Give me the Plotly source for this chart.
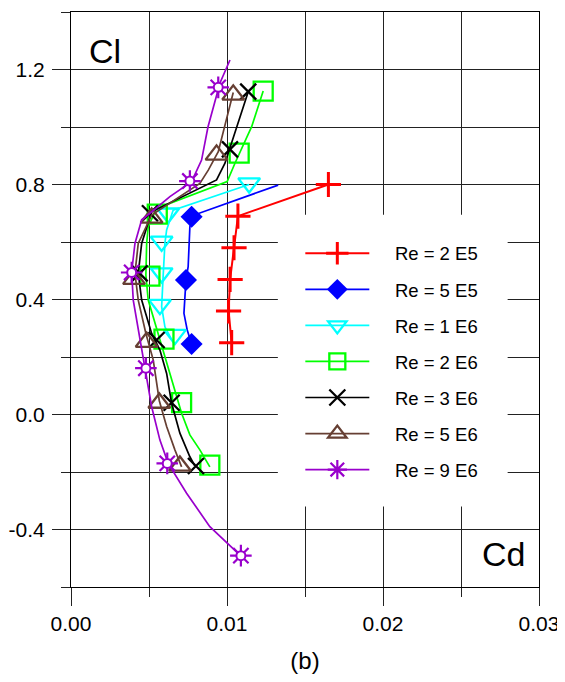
import plotly.graph_objects as go

# ---------------- data (Cd, Cl) ----------------
series_names = ["Re = 2 E5", "Re = 5 E5", "Re = 1 E6", "Re = 2 E6", "Re = 3 E6", "Re = 5 E6", "Re = 9 E6"]

# marker points
re2e5_cd = [0.0165, 0.0107, 0.01045, 0.0102, 0.0101, 0.0103]
re2e5_cl = [0.80, 0.69, 0.58, 0.47, 0.36, 0.25]
re5e5_cd = [0.00773, 0.00737, 0.00773]
re5e5_cl = [0.688, 0.468, 0.245]
re1e6_cd = [0.01142, 0.00623, 0.00581, 0.00581, 0.00570, 0.00666]
re1e6_cl = [0.805, 0.70, 0.602, 0.492, 0.382, 0.278]
re2e6_cd = [0.01232, 0.01078, 0.00553, 0.00506, 0.00596, 0.00709, 0.00890]
re2e6_cl = [1.125, 0.909, 0.697, 0.481, 0.262, 0.041, -0.176]
re3e6_cd = [0.01136, 0.01019, 0.00506, 0.00440, 0.00549, 0.00645, 0.00801]
re3e6_cl = [1.123, 0.922, 0.700, 0.491, 0.259, 0.041, -0.179]
re5e6_cd = [0.01040, 0.00933, 0.00517, 0.00404, 0.00485, 0.00566, 0.00698]
re5e6_cl = [1.112, 0.903, 0.684, 0.471, 0.252, 0.040, -0.179]
re9e6_cd = [0.00944, 0.00762, 0.00389, 0.00480, 0.00617, 0.01089]
re9e6_cl = [1.138, 0.812, 0.494, 0.161, -0.170, -0.491]

# curve points
re2e5_line_cd = re2e5_cd
re2e5_line_cl = re2e5_cl
re5e5_line_cd = [0.01328, 0.00780, 0.00762, 0.00758, 0.00751, 0.00737, 0.00730, 0.00724, 0.00745, 0.00773]
re5e5_line_cl = [0.798, 0.692, 0.653, 0.595, 0.514, 0.468, 0.398, 0.352, 0.294, 0.245]
re1e6_line_cd = [0.01142, 0.00655, 0.00613, 0.00602, 0.00591, 0.00581, 0.00602, 0.00647]
re1e6_line_cl = [0.800, 0.711, 0.642, 0.595, 0.485, 0.375, 0.305, 0.259]
re2e6_line_cd = [0.01232, 0.01158, 0.01051, 0.01001, 0.00549, 0.00495, 0.00485, 0.00480, 0.00495, 0.00559, 0.00655, 0.00709, 0.00762, 0.00826, 0.00890]
re2e6_line_cl = [1.125, 1.001, 0.874, 0.810, 0.717, 0.653, 0.595, 0.485, 0.398, 0.282, 0.109, 0.004, -0.071, -0.123, -0.182]
re3e6_line_cd = [0.01136, 0.01065, 0.01019, 0.00987, 0.00933, 0.00517, 0.00453, 0.00431, 0.00453, 0.00517, 0.00570, 0.00613, 0.00645, 0.00698, 0.00762, 0.00794]
re3e6_line_cl = [1.123, 1.001, 0.922, 0.874, 0.816, 0.705, 0.595, 0.491, 0.398, 0.282, 0.224, 0.143, 0.039, -0.065, -0.147, -0.179]
re5e6_line_cd = [0.01040, 0.00987, 0.00944, 0.00880, 0.00826, 0.00517, 0.00431, 0.00410, 0.00431, 0.00480, 0.00527, 0.00566, 0.00613, 0.00666, 0.00709]
re5e6_line_cl = [1.120, 1.001, 0.914, 0.850, 0.804, 0.694, 0.595, 0.491, 0.398, 0.282, 0.190, 0.048, -0.042, -0.123, -0.182]
re9e6_line_cd = [0.01019, 0.00955, 0.00878, 0.00837, 0.00773, 0.00634, 0.00506, 0.00453, 0.00410, 0.00389, 0.00399, 0.00431, 0.00463, 0.00517, 0.00570, 0.00623, 0.00741, 0.00890, 0.01083]
re9e6_line_cl = [1.233, 1.153, 1.000, 0.885, 0.810, 0.758, 0.700, 0.677, 0.595, 0.497, 0.398, 0.294, 0.190, 0.027, -0.089, -0.170, -0.274, -0.390, -0.489]

x_tick_vals = [0.0, 0.01, 0.02, 0.03]
x_tick_text = ["0.00", "0.01", "0.02", "0.03"]
y_tick_vals = [-0.4, 0.0, 0.4, 0.8, 1.2]
y_tick_text = ["-0.4", "0.0", "0.4", "0.8", "1.2"]

# ---------------- styles ----------------
FONT = "Liberation Sans, Arial, sans-serif"
colors = ["#ff0000", "#0000ff", "#00ffff", "#00ff00", "#000000", "#663f33", "#9900cc"]
symbols = ["cross-thin-open", "diamond", "triangle-down-open", "square-open", "x-thin-open", "triangle-up-open", "asterisk-open"]
msizes = [18, 17, 19, 19, 16, 19, 18]
mlw = [3, 0, 2.3, 2.3, 2.3, 2.3, 2.2]
lw = [2, 1.7, 1.7, 1.7, 1.7, 1.7, 1.7]
PAD = "\u00a0\u00a0\u00a0\u00a0"

marker_data = [(re2e5_cd, re2e5_cl), (re5e5_cd, re5e5_cl), (re1e6_cd, re1e6_cl), (re2e6_cd, re2e6_cl),
               (re3e6_cd, re3e6_cl), (re5e6_cd, re5e6_cl), (re9e6_cd, re9e6_cl)]
line_data = [(re2e5_line_cd, re2e5_line_cl), (re5e5_line_cd, re5e5_line_cl), (re1e6_line_cd, re1e6_line_cl),
             (re2e6_line_cd, re2e6_line_cl), (re3e6_line_cd, re3e6_line_cl), (re5e6_line_cd, re5e6_line_cl),
             (re9e6_line_cd, re9e6_line_cl)]

fig = go.Figure()

for i, name in enumerate(series_names):
    c = colors[i]
    lx, ly = line_data[i]
    mx, my = marker_data[i]
    fig.add_trace(go.Scatter(x=lx, y=ly, mode="lines", line=dict(color=c, width=lw[i]),
                             showlegend=False, hoverinfo="skip"))
    fig.add_trace(go.Scatter(x=mx, y=my, mode="markers", showlegend=False,
                             marker=dict(symbol=symbols[i], size=msizes[i], color=c,
                                         line=dict(color=c, width=mlw[i]))))
    if i == 6:
        fig.add_trace(go.Scatter(x=mx, y=my, mode="markers", showlegend=False,
                                 marker=dict(symbol="circle", size=9, color="white",
                                             line=dict(color=c, width=2))))

# legend-only traces
for i, name in enumerate(series_names):
    c = colors[i]
    fig.add_trace(go.Scatter(x=[None], y=[None], mode="lines+markers", name=PAD + name,
                             legendgroup=name,
                             line=dict(color=c, width=lw[i]),
                             marker=dict(symbol=symbols[i], size=msizes[i], color=c,
                                         line=dict(color=c, width=mlw[i]))))

grid_col = "#222222"
# the page body adds an 8px offset, so the figure is sized/margined to compensate
fig.update_layout(
    width=557, height=666,
    margin=dict(l=63, r=26, t=4, b=87),
    paper_bgcolor="white", plot_bgcolor="white",
    font=dict(family=FONT, color="black", size=21),
    xaxis=dict(range=[0, 0.03], tickvals=x_tick_vals, ticktext=x_tick_text,
               automargin=False,
               showgrid=True, gridcolor=grid_col, gridwidth=1,
               ticks="outside", ticklen=18, tickcolor=grid_col, tickwidth=1,
               minor=dict(dtick=0.005, tick0=0, showgrid=True, gridcolor=grid_col, gridwidth=1,
                          ticks="outside", ticklen=9, tickcolor=grid_col, tickwidth=1),
               showline=True, linecolor="black", linewidth=1, mirror=True, zeroline=False,
               tickfont=dict(size=21),
               title=dict(text="(b)", font=dict(size=24), standoff=20)),
    yaxis=dict(range=[-0.6, 1.4], tickvals=y_tick_vals, ticktext=y_tick_text,
               automargin=False,
               showgrid=True, gridcolor=grid_col, gridwidth=1,
               ticks="outside", ticklen=18, tickcolor=grid_col, tickwidth=1,
               ticklabelstandoff=3,
               minor=dict(dtick=0.2, tick0=0, showgrid=True, gridcolor=grid_col, gridwidth=1,
                          ticks="outside", ticklen=9, tickcolor=grid_col, tickwidth=1),
               showline=True, linecolor="black", linewidth=1, mirror=True, zeroline=False,
               tickfont=dict(size=21)),
    legend=dict(x=0.49, y=0.6126, xanchor="left", yanchor="top",
                bgcolor="rgba(0,0,0,0)", borderwidth=0,
                font=dict(size=18.5, family=FONT),
                tracegroupgap=9, traceorder="grouped", itemwidth=64),
    shapes=[dict(type="rect", xref="paper", yref="paper", x0=0.442, x1=0.933, y0=0.14, y1=0.6475,
                 fillcolor="white", line=dict(width=0), layer="above")],
    annotations=[
        dict(text="Cl", xref="paper", yref="paper", x=0.034, y=0.932, xanchor="left", yanchor="middle",
             showarrow=False, font=dict(size=34)),
        dict(text="Cd", xref="paper", yref="paper", x=0.975, y=0.058, xanchor="right", yanchor="middle",
             showarrow=False, font=dict(size=34)),
    ],
)

fig.write_html("out.html")
